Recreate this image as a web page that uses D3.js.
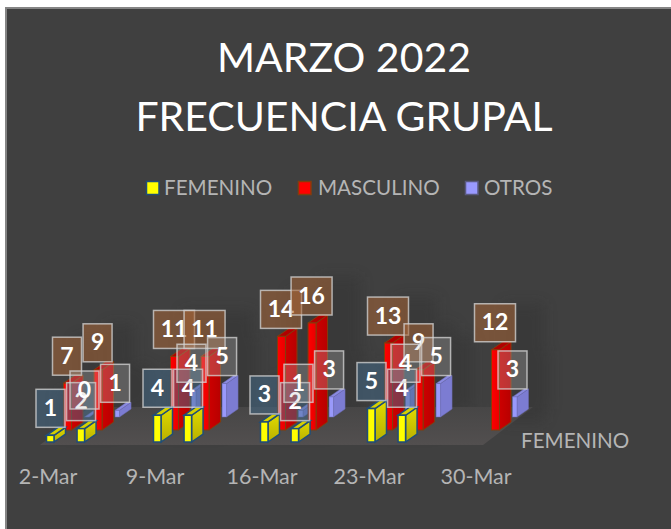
<!DOCTYPE html>
<html><head><meta charset="utf-8">
<script src="https://cdn.jsdelivr.net/npm/d3@7"></script>
<style>html,body{margin:0;background:#fff}svg{display:block}text{font-family:Lato,"Open Sans",sans-serif}</style>
</head><body><svg id="c" width="671" height="529"></svg>
<script>
const titleLines = ["MARZO 2022","FRECUENCIA GRUPAL"];
const dates = ["2022-03-02","2022-03-04","2022-03-09","2022-03-11","2022-03-16","2022-03-18","2022-03-23","2022-03-25","2022-03-30"];
const tickDates = ["2022-03-02","2022-03-09","2022-03-16","2022-03-23","2022-03-30"];
const femenino = [1,2,4,4,3,2,5,4,null];
const masculino = [7,9,11,11,14,16,13,9,12];
const otros = [0,1,4,5,1,3,4,5,3];
const seriesNames = ["FEMENINO","MASCULINO","OTROS"];

const parse = d3.utcParse("%Y-%m-%d");
const svg = d3.select("#c");
const defs = svg.append("defs");
const W=671,H=529;

function grad(id,stops,x2=1,y2=0){
  const g=defs.append("linearGradient").attr("id",id).attr("x1",0).attr("y1",0).attr("x2",x2).attr("y2",y2);
  stops.forEach(([o,c])=>g.append("stop").attr("offset",o).attr("stop-color",c));
}
grad("redFront",[[0,"#ff0000"],[1,"#e80000"]]);
grad("redSide",[[0,"#cc0000"],[1,"#b80000"]]);
grad("yelSide",[[0,"#e0da00"],[1,"#b8b000"]],0,1);
grad("floorG",[[0,"#474646"],[1,"#524f4f"]],0,1);
const blur=defs.append("filter").attr("id","soft").attr("x","-60%").attr("y","-60%").attr("width","220%").attr("height","220%");
blur.append("feGaussianBlur").attr("stdDeviation",7);

svg.append("rect").attr("x",0).attr("y",0).attr("width",W).attr("height",H).attr("fill","#fff");
svg.append("rect").attr("x",5).attr("y",7).attr("width",W-5).attr("height",H-7).attr("fill","#404040");
svg.append("path").attr("d",`M6,${H}V8H${W}`).attr("fill","none").attr("stroke","#858585").attr("stroke-width",2);

titleLines.forEach((t,i)=>svg.append("text").attr("x",344).attr("y",[72,131][i])
  .attr("text-anchor","middle").attr("font-size",41).attr("fill","#fff").text(t));

const legend=[{x:146,tx:164,fill:"#ffff00",stroke:"#1f4e79"},{x:298,tx:318,fill:"#ff0000",stroke:"#843c0c"},{x:465,tx:484,fill:"#9999ff",stroke:"#5a5a80"}];
legend.forEach((l,i)=>{
  svg.append("rect").attr("x",l.x+.5).attr("y",181.5).attr("width",12.5).attr("height",13).attr("fill",l.fill).attr("stroke",l.stroke).attr("stroke-width",1.5);
  svg.append("text").attr("x",l.tx).attr("y",195).attr("font-size",20.6).attr("fill","#b5b5b5").text(seriesNames[i]);
});

const x=d3.scaleUtc().domain([parse("2022-03-02"),parse("2022-03-30")]).range([50.5,478.5]);
const h=d3.scaleLinear().domain([0,16]).range([0,107]);
const rise=8;

const series=[
 {key:"f",vals:femenino,base:442,off:0,fl:-4,fr:3.5,sr:15,front:"#ffff00",side:"url(#yelSide)",top:"#d6d000",stroke:"#1f4e79",sw:1.5,box:"rgba(70,110,145,.48)"},
 {key:"m",vals:masculino,base:430,off:16.5,fl:-3.5,fr:4.5,sr:16,front:"url(#redFront)",side:"url(#redSide)",top:"#b00000",stroke:"#843c0c",sw:1,box:"rgba(165,100,55,.55)"},
 {key:"o",vals:otros,base:417,off:34,fl:0,fr:4.5,sr:16,front:"#9999fa",side:"#7c7cd2",top:"#8a8ae0",stroke:"#6a6ab0",sw:.5,box:"rgba(190,190,190,.28)"}
];
const rows=series.map(s=>dates.map((d,i)=>({s,i,v:s.vals[i],cx:x(parse(d))+s.off})).filter(d=>d.v!=null));

// soft shadows behind marks
const shadow=svg.append("g").attr("filter","url(#soft)").attr("opacity",.3);
rows.forEach(r=>shadow.selectAll(null).data(r).join("rect")
  .attr("x",d=>d.cx+8).attr("y",d=>d.s.base-h(d.v)-rise-38).attr("width",d=>(d.v>=10?41:29)).attr("height",d=>h(d.v)+38).attr("fill","#2a2a2a"));

// floor
svg.append("polygon").attr("points",[[40,445],[483,445],[533,407],[90,407]].map(p=>p.join(",")).join(" ")).attr("fill","url(#floorG)");

// bars, back series first
[2,1,0].forEach(k=>{
  const g=svg.append("g");
  const bar=g.selectAll("g").data(rows[k]).join("g");
  const stroke=d=>d.s.stroke;
  bar.append("polygon").attr("fill",d=>d.s.side).attr("stroke",stroke).attr("stroke-width",d=>d.s.sw)
    .attr("points",d=>{const r=d.cx+d.s.fr,e=d.cx+d.s.sr,b=d.s.base,t=b-h(d.v);return [[r,b],[e,b-rise],[e,t-rise],[r,t]].join(" ");});
  bar.append("polygon").attr("fill",d=>d.s.top).attr("stroke",stroke).attr("stroke-width",d=>d.s.sw)
    .attr("points",d=>{const l=d.cx+d.s.fl,r=d.cx+d.s.fr,w=r-l,e=d.cx+d.s.sr,t=d.s.base-h(d.v);return [[l,t],[r,t],[e,t-rise],[e-w,t-rise]].join(" ");});
  bar.append("rect").attr("fill",d=>d.s.front).attr("stroke",stroke).attr("stroke-width",d=>d.s.sw)
    .attr("x",d=>d.cx+d.s.fl).attr("width",d=>d.s.fr-d.s.fl).attr("y",d=>d.s.base-h(d.v)).attr("height",d=>h(d.v));
});

// data labels
rows.forEach(r=>{
  const g=svg.append("g").selectAll("g").data(r).join("g");
  const bw=d=>String(d.v).length>1?41:29;
  g.append("rect").attr("x",d=>d.cx-bw(d)/2).attr("y",d=>d.s.base-h(d.v)-rise-38).attr("width",bw).attr("height",38)
    .attr("fill",d=>d.s.box).attr("stroke","rgba(215,215,215,.75)").attr("stroke-width",1.5);
  g.append("text").attr("x",d=>d.cx).attr("y",d=>d.s.base-h(d.v)-rise-11.5).attr("text-anchor","middle")
    .attr("font-size",23).attr("font-weight",700).attr("fill","#fff").text(d=>d.v);
});

// axis
const fmt=d=>`${d.getUTCDate()}-Mar`;
const axis=d3.axisBottom(x).tickValues(tickDates.map(parse)).tickFormat(fmt).tickSize(0);
const ax=svg.append("g").attr("transform","translate(-3,468)").call(axis);
ax.select(".domain").remove();
ax.selectAll("text").attr("font-size",21.5).attr("fill","#b5b5b5").attr("dy",0).attr("y",16).style("font-family","Lato");
svg.append("text").attr("x",521).attr("y",447.5).attr("font-size",20.6).attr("fill","#b5b5b5").text(seriesNames[0]);
</script></body></html>
